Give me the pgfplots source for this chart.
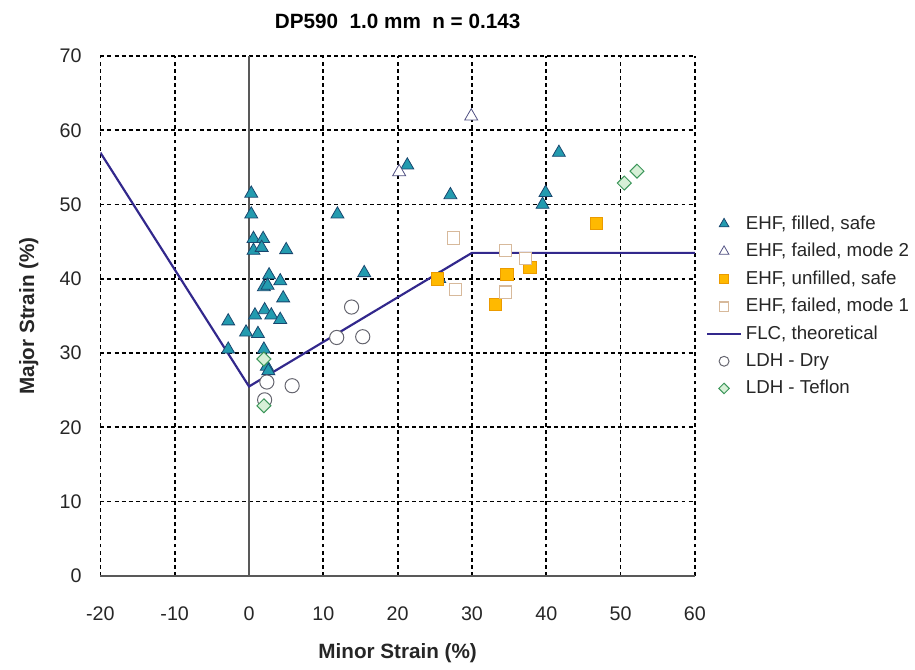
\documentclass[border=0pt]{standalone}
\usepackage{pgfplots}
\pgfplotsset{compat=1.18}
\usepackage{fontspec}
\setmainfont{Liberation Sans}
\definecolor{tealfill}{RGB}{35,155,175}
\definecolor{tealedge}{RGB}{25,70,110}
\definecolor{opentri}{RGB}{80,80,130}
\definecolor{orfill}{RGB}{255,185,0}
\definecolor{oredge}{RGB}{235,155,0}
\definecolor{tanedge}{RGB}{215,185,155}
\definecolor{flc}{RGB}{50,40,140}
\definecolor{circedge}{RGB}{100,100,110}
\definecolor{diaedge}{RGB}{60,150,90}
\definecolor{diafill}{RGB}{215,240,215}
\begin{document}
\begin{tikzpicture}
\begin{axis}[
  scale only axis,
  width=302pt, height=264pt,
  xmin=-20, xmax=60, ymin=0, ymax=70,
  xtick={-20,-10,...,60}, ytick={0,10,...,70},
  major tick length=0pt,
  axis line style={draw=none},
  grid=major,
  grid style={black, line width=0.9pt, dash pattern=on 2pt off 1.6pt},
  extra x ticks={0}, extra x tick labels={},
  extra x tick style={grid style={solid, line width=0.6pt, gray!70!black}},
  extra y ticks={0}, extra y tick labels={},
  extra y tick style={grid style={solid, line width=0.8pt, gray!70!black}},
  tick label style={font=\fontsize{10}{12}\selectfont, text=black!85},
  /pgf/number format/assume math mode=true,
  xticklabel style={yshift=-12pt},
  yticklabel style={xshift=-6pt},
  xlabel={\textbf{Minor Strain (\%)}},
  ylabel={\textbf{Major Strain (\%)}},
  label style={font=\fontsize{10.5}{12}\selectfont, text=black!85},
  xlabel style={yshift=-5pt},
  ylabel style={yshift=4pt},
  title={\textbf{DP590\ \ 1.0 mm\ \ n = 0.143}},
  title style={font=\fontsize{10.5}{12}\selectfont, yshift=4.5pt},
  legend style={at={(1.015,0.705)}, anchor=north west, draw=none, fill=none,
    font=\fontsize{9.5}{11}\selectfont, text=black!85, row sep=1.6pt,
    inner sep=1pt},
  legend cell align=left,
]
\addplot[only marks, mark=triangle*, mark size=3.8pt, fill=tealfill, draw=tealedge, line width=0.4pt,
  legend image post style={mark options={scale=0.75}}]
coordinates {
(0.3,51.5) (0.3,48.7) (11.9,48.7) (0.6,45.4) (1.9,45.4) (0.6,43.8) (1.7,44.2) (5.0,43.9)
(2.7,40.5) (2.0,38.9) (2.5,39.1) (4.2,39.7) (4.6,37.4) (-2.8,34.3) (0.8,35.1) (2.1,35.8)
(3.0,35.1) (4.2,34.5) (-0.4,32.8) (1.2,32.6) (-2.8,30.5) (2.0,30.5) (2.4,28.2) (2.6,27.6)
(15.5,40.8) (25.6,40.0) (21.3,55.3) (27.1,51.3) (41.7,57.0) (39.9,51.6) (39.5,50.0)
};
\addlegendentry{EHF, filled, safe}
\addplot[only marks, mark=triangle*, mark size=3.8pt, fill=white, draw=opentri, line width=0.4pt,
  legend image post style={mark options={scale=0.75}}]
coordinates { (29.9,61.9) (20.2,54.4) };
\addlegendentry{EHF, failed, mode 2}
\addplot[only marks, mark=square*, mark size=3.1pt, fill=orfill, draw=oredge, line width=0.4pt,
  legend image post style={mark options={scale=0.75}}]
coordinates { (25.3,40.0) (34.7,40.6) (37.8,41.5) (33.1,36.6) (46.7,47.5) };
\addlegendentry{EHF, unfilled, safe}
\addplot[only marks, mark=square*, mark size=3.1pt, fill=white, draw=tanedge, line width=0.6pt,
  legend image post style={mark options={scale=0.75}}]
coordinates { (27.5,45.5) (27.8,38.6) (34.5,43.8) (34.5,38.2) (37.2,42.7) };
\addlegendentry{EHF, failed, mode 1}
\addplot[flc, line width=1.1pt, mark=none]
coordinates { (-20,57.0) (0,25.5) (30,43.5) (60,43.5) };
\addlegendentry{FLC, theoretical}
\addplot[only marks, mark=*, mark size=3.6pt, fill=white, draw=circedge, line width=0.5pt,
  legend image post style={mark options={scale=0.7}}]
coordinates { (2.4,26.1) (5.8,25.6) (2.1,23.7) (13.8,36.2) (11.8,32.1) (15.3,32.2) };
\addlegendentry{LDH - Dry}
\addplot[only marks, mark=square*, mark size=2.5pt, mark options={rotate=45}, fill=diafill, draw=diaedge, line width=0.5pt,
  legend image post style={mark options={scale=0.75, rotate=45}}]
coordinates { (2.0,29.2) (2.0,22.9) (50.5,52.9) (52.2,54.5) };
\addlegendentry{LDH - Teflon}
\end{axis}
\path[use as bounding box] ([xshift=-51pt,yshift=-43pt]current axis.south west) rectangle ([xshift=104.5pt,yshift=28.5pt]current axis.north east);
\end{tikzpicture}
\end{document}
